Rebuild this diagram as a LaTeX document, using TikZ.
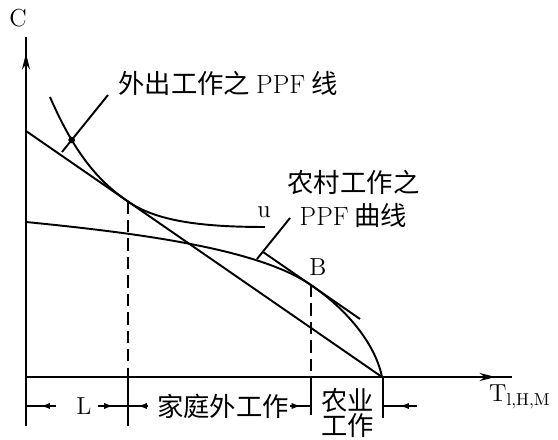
\documentclass[tikz,border=0pt]{standalone}
\usepackage{fontspec}
\newfontfamily\cjk{Noto Sans CJK SC}
\usetikzlibrary{arrows.meta,decorations.markings,intersections}

\begin{document}
\begin{tikzpicture}[x=1cm,y=1cm,
  axisline/.style={line width=1.5pt,postaction=decorate,
    decoration={markings,mark=at position -0.33cm with {\arrow{Stealth[length=9pt,width=4.5pt]}}}},
  ppf/.style={line width=1.1pt},
  dropline/.style={line width=1pt,dash pattern=on 7pt off 3.5pt},
  bartick/.style={line width=1pt},
  dimline/.style={line width=0.8pt,postaction=decorate,
    decoration={markings,mark=at position 0.5 with {\arrow{Latex[length=5pt,width=3.5pt]}}}},
  cjklabel/.style={font=\cjk\fontsize{15}{18.7}\selectfont,inner sep=1pt},
  latlabel/.style={font=\fontsize{14}{16}\selectfont,inner sep=1pt}]
  \useasboundingbox (-0.52,-1.26) rectangle (10.64,7.54);
  % axes
  \draw[axisline] (0,0) -- (0,6.8);
  \draw[axisline] (0,0) -- (9.72,0);
  \node[latlabel] (C) at (-0.16,7.18) {C};
  \node[latlabel,anchor=west] (T) at (9.22,-0.4) {T$_{\mathrm{l,H,M}}$};
  % budget line and the two PPF curves
  \draw[ppf] (0,4.92) -- (7.12,0);
  \draw[ppf,name path=outer] (0.48,5.6) .. controls (1.0,4.4) and (1.5,3.88) .. (2.04,3.51) coordinate (L)
    .. controls (2.6,3.12) and (3.5,3.0) .. (4.78,3.0);
  \draw[ppf,name path=rural] (0,3.1) .. controls (2,2.9) and (4.6,2.6) .. (5.7,1.84) coordinate (Bpt)
    .. controls (6.5,1.29) and (7.0,0.6) .. (7.12,0);
  \draw[ppf,name path=btan] (4.74,2.5) -- (6.68,1.16);
  \node[latlabel] (u) at (4.76,3.3) {u};
  \node[latlabel] (B) at (5.84,2.2) {B};
  % labels with leaders
  \node[cjklabel] (outlab) at (4.04,5.88) {外出工作之 {\rmfamily PPF} 线};
  \node[cjklabel,align=center] (rurallab) at (6.55,3.57) {农村工作之\\{\rmfamily PPF} 曲线};
  \draw[ppf,name path=lead1] (1.64,5.64) -- (0.72,4.5);
  \fill[name intersections={of=lead1 and outer}] (intersection-1) circle (1.8pt);
  \draw[ppf,name path=lead2] (5.28,3.18) -- (4.62,2.36);
  \fill[name intersections={of=lead2 and btan}] (intersection-1) circle (1.8pt);
  % drop lines and ticks
  \draw[dropline] (L) -- (2.04,0);
  \draw[dropline] (Bpt) -- (5.7,0);
  \draw[bartick] (0,0) -- (0,-0.98);
  \draw[bartick] (2.04,0) -- (2.04,-0.98);
  \draw[bartick] (5.7,0) -- (5.7,-0.76);
  \draw[bartick] (7.14,0) -- (7.14,-0.82);
  % time split
  \draw[dimline] (0.6,-0.58) -- (0,-0.58);
  \node[latlabel] (Ldim) at (1.16,-0.58) {L};
  \draw[dimline] (1.44,-0.58) -- (2.04,-0.58);
  \draw[dimline] (2.44,-0.58) -- (2.04,-0.58);
  \node[cjklabel] (home) at (3.94,-0.58) {家庭外工作};
  \draw[dimline] (5.28,-0.58) -- (5.7,-0.58);
  \node[cjklabel,align=center,font=\cjk\fontsize{15}{14.5}\selectfont] (farm) at (6.44,-0.72) {农业\\工作};
  \draw[dimline] (7.82,-0.58) -- (7.14,-0.58);
\end{tikzpicture}
\end{document}
